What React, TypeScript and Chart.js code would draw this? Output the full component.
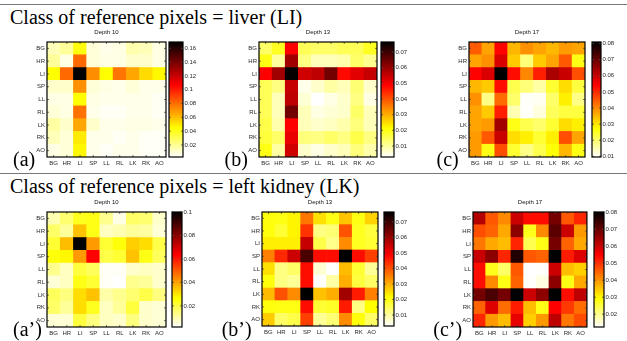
import React, { useEffect, useRef } from "react";
import { Chart, registerables } from "chart.js";
Chart.register(...registerables);

const organs = ["BG", "HR", "LI", "SP", "LL", "RL", "LK", "RK", "AO"];

// Class = liver (LI)
const liverDepth10 = [
  [0.014, 0.019, 0.042, 0.009, 0.006, 0.007, 0.016, 0.014, 0.007],
  [0.019, 0.007, 0.081, 0.009, 0.007, 0.007, 0.011, 0.011, 0.007],
  [0.044, 0.081, 0.169, 0.072, 0.044, 0.078, 0.066, 0.053, 0.046],
  [0.011, 0.011, 0.071, 0.009, 0.007, 0.006, 0.009, 0.006, 0.006],
  [0.007, 0.007, 0.044, 0.007, 0.006, 0.006, 0.006, 0.006, 0.004],
  [0.009, 0.007, 0.079, 0.006, 0.004, 0.004, 0.006, 0.006, 0.004],
  [0.018, 0.011, 0.066, 0.011, 0.006, 0.006, 0.007, 0.007, 0.006],
  [0.014, 0.009, 0.049, 0.006, 0.006, 0.004, 0.006, 0.004, 0.004],
  [0.007, 0.009, 0.046, 0.006, 0.004, 0.006, 0.006, 0.004, 0.004],
];
const liverDepth13 = [
  [0.014, 0.019, 0.049, 0.015, 0.014, 0.014, 0.015, 0.015, 0.019],
  [0.020, 0.010, 0.059, 0.012, 0.008, 0.008, 0.009, 0.014, 0.011],
  [0.049, 0.059, 0.076, 0.054, 0.056, 0.064, 0.048, 0.052, 0.055],
  [0.015, 0.012, 0.055, 0.0045, 0.0067, 0.0096, 0.008, 0.013, 0.0067],
  [0.015, 0.008, 0.056, 0.006, 0.003, 0.005, 0.0067, 0.012, 0.005],
  [0.015, 0.008, 0.064, 0.008, 0.005, 0.006, 0.0067, 0.014, 0.008],
  [0.016, 0.009, 0.049, 0.008, 0.0067, 0.0074, 0.009, 0.0125, 0.008],
  [0.017, 0.014, 0.051, 0.0125, 0.012, 0.014, 0.012, 0.016, 0.012],
  [0.020, 0.0096, 0.054, 0.0067, 0.005, 0.0067, 0.008, 0.0125, 0.009],
];
const liverDepth17 = [
  [0.0446, 0.037, 0.054, 0.035, 0.039, 0.037, 0.035, 0.038, 0.037],
  [0.037, 0.039, 0.058, 0.033, 0.019, 0.033, 0.037, 0.045, 0.026],
  [0.054, 0.058, 0.081, 0.053, 0.040, 0.051, 0.063, 0.060, 0.046],
  [0.035, 0.033, 0.053, 0.022, 0.019, 0.016, 0.024, 0.031, 0.023],
  [0.039, 0.018, 0.043, 0.020, 0.010, 0.0105, 0.020, 0.029, 0.018],
  [0.037, 0.033, 0.051, 0.015, 0.0098, 0.012, 0.021, 0.023, 0.023],
  [0.037, 0.038, 0.064, 0.026, 0.022, 0.020, 0.024, 0.031, 0.029],
  [0.038, 0.045, 0.060, 0.031, 0.029, 0.024, 0.029, 0.046, 0.037],
  [0.038, 0.026, 0.046, 0.024, 0.018, 0.022, 0.027, 0.035, 0.026],
];

// Class = left kidney (LK)
const kidneyDepth10 = [
  [0.0094, 0.0157, 0.0236, 0.0245, 0.013, 0.0045, 0.0167, 0.0157, 0.007],
  [0.0167, 0.0118, 0.0353, 0.0245, 0.0079, 0.0094, 0.0118, 0.011, 0.006],
  [0.0216, 0.036, 0.1, 0.041, 0.0216, 0.0255, 0.0334, 0.0314, 0.0196],
  [0.0255, 0.0275, 0.041, 0.0633, 0.0196, 0.0216, 0.0353, 0.0245, 0.0177],
  [0.013, 0.0079, 0.0206, 0.0177, 0.003, 0.003, 0.007, 0.0079, 0.007],
  [0.006, 0.0079, 0.0245, 0.0216, 0.003, 0.002, 0.013, 0.0118, 0.007],
  [0.0177, 0.0143, 0.0314, 0.0353, 0.0103, 0.013, 0.0157, 0.0196, 0.0143],
  [0.0167, 0.0118, 0.0314, 0.0236, 0.0079, 0.0118, 0.0206, 0.007, 0.006],
  [0.006, 0.006, 0.0206, 0.0143, 0.0079, 0.007, 0.0143, 0.007, 0.006],
];
const kidneyDepth13 = [
  [0.0205, 0.0198, 0.0224, 0.036, 0.0246, 0.0198, 0.0277, 0.0198, 0.026],
  [0.0205, 0.0176, 0.0224, 0.0433, 0.012, 0.013, 0.040, 0.019, 0.0168],
  [0.023, 0.023, 0.023, 0.055, 0.016, 0.0114, 0.0338, 0.019, 0.0176],
  [0.035, 0.0445, 0.0544, 0.0683, 0.0475, 0.0475, 0.0764, 0.0475, 0.042],
  [0.0246, 0.012, 0.014, 0.0475, 0.006, 0.003, 0.0286, 0.0176, 0.0103],
  [0.0205, 0.012, 0.0103, 0.0475, 0.003, 0.0095, 0.030, 0.0168, 0.014],
  [0.0286, 0.040, 0.0338, 0.0764, 0.028, 0.030, 0.0588, 0.046, 0.035],
  [0.0205, 0.0198, 0.0198, 0.0475, 0.0176, 0.0185, 0.046, 0.012, 0.0213],
  [0.0268, 0.014, 0.016, 0.042, 0.0103, 0.013, 0.0338, 0.0205, 0.014],
];
const kidneyDepth17 = [
  [0.062, 0.046, 0.041, 0.0598, 0.0535, 0.0535, 0.0685, 0.046, 0.051],
  [0.047, 0.045, 0.038, 0.066, 0.0275, 0.041, 0.071, 0.0598, 0.0395],
  [0.043, 0.038, 0.036, 0.051, 0.024, 0.028, 0.0685, 0.045, 0.038],
  [0.060, 0.066, 0.051, 0.0766, 0.046, 0.045, 0.08, 0.052, 0.058],
  [0.0535, 0.0275, 0.0226, 0.046, 0.0125, 0.0127, 0.0598, 0.036, 0.034],
  [0.0535, 0.041, 0.028, 0.045, 0.0127, 0.0145, 0.066, 0.028, 0.038],
  [0.0685, 0.0726, 0.0685, 0.08, 0.0598, 0.066, 0.08, 0.0535, 0.061],
  [0.045, 0.058, 0.044, 0.052, 0.036, 0.028, 0.0547, 0.049, 0.044],
  [0.051, 0.0395, 0.036, 0.057, 0.034, 0.0395, 0.061, 0.043, 0.047],
];

// colour-bar limits and tick labels
const liverDepth10Range = [0.0026, 0.169];
const liverDepth13Range = [0.003, 0.0764];
const liverDepth17Range = [0.0096, 0.081];
const kidneyDepth10Range = [0.002, 0.1];
const kidneyDepth13Range = [0.0029, 0.0764];
const kidneyDepth17Range = [0.0125, 0.08];

const liverDepth10Ticks = [0.02, 0.04, 0.06, 0.08, 0.1, 0.12, 0.14, 0.16];
const liverDepth13Ticks = [0.01, 0.02, 0.03, 0.04, 0.05, 0.06, 0.07];
const liverDepth17Ticks = [0.01, 0.02, 0.03, 0.04, 0.05, 0.06, 0.07, 0.08];
const kidneyDepth10Ticks = [0.02, 0.04, 0.06, 0.08, 0.1];
const kidneyDepth13Ticks = [0.01, 0.02, 0.03, 0.04, 0.05, 0.06, 0.07];
const kidneyDepth17Ticks = [0.02, 0.03, 0.04, 0.05, 0.06, 0.07, 0.08];

const SANS = "'Liberation Sans', Arial, Helvetica, sans-serif";
const SERIF = "'Liberation Serif', 'Times New Roman', Times, serif";
const SMALL = { size: 6, family: SANS };
const TXT = "#2a2a2a";

const clamp = (x: number) => Math.max(0, Math.min(1, x));
function hotR(t: number) {
  const s = 1 - clamp(t);
  const r = clamp(s / 0.375);
  const g = clamp((s - 0.375) / 0.375);
  const b = clamp((s - 0.75) / 0.25);
  return `rgb(${Math.round(r * 255)},${Math.round(g * 255)},${Math.round(b * 255)})`;
}

const framePlugin = {
  id: "frameTicks",
  afterDraw(chart: any) {
    const { ctx, chartArea: a } = chart;
    ctx.save();
    ctx.strokeStyle = "#555";
    ctx.lineWidth = 0.8;
    const len = 2;
    Object.keys(chart.scales).forEach((id) => {
      const s = chart.scales[id];
      if (!s.options.display) return;
      s.ticks.forEach((_t: any, i: number) => {
        const p = s.getPixelForTick(i);
        ctx.beginPath();
        if (s.isHorizontal()) {
          ctx.moveTo(p, a.bottom);
          ctx.lineTo(p, a.bottom - len);
          ctx.moveTo(p, a.top);
          ctx.lineTo(p, a.top + len);
        } else {
          ctx.moveTo(a.left, p);
          ctx.lineTo(a.left + len, p);
          ctx.moveTo(a.right, p);
          ctx.lineTo(a.right - len, p);
        }
        ctx.stroke();
      });
    });
    ctx.strokeStyle = "#000";
    ctx.lineWidth = 1.2;
    ctx.strokeRect(a.left, a.top, a.right - a.left, a.bottom - a.top);
    ctx.restore();
  },
};

const YW = 20; // y axis width
const TH = 13; // title height
const XH = 12; // x axis height

function Heatmap(props: { matrix: number[][]; range: number[]; depth: number; box: number[] }) {
  const ref = useRef<HTMLCanvasElement>(null);
  const [l, t, r, b] = props.box;
  const W = YW + (r - l) + 1;
  const H = TH + (b - t) + XH;
  useEffect(() => {
    const [mn, mx] = props.range;
    const rowsBottomUp = organs.map((_, i) => organs.length - 1 - i);
    const chart = new Chart(ref.current as HTMLCanvasElement, {
      type: "bar",
      data: {
        labels: organs,
        datasets: rowsBottomUp.map((ri) => ({
          label: organs[ri],
          data: organs.map(() => 1),
          backgroundColor: props.matrix[ri].map((v) => hotR((v - mn) / (mx - mn))),
          borderWidth: 0,
          barPercentage: 1,
          categoryPercentage: 1,
          stack: "m",
        })),
      },
      options: {
        animation: false,
        responsive: false,
        maintainAspectRatio: false,
        layout: { padding: { left: 0, right: 1, top: 0, bottom: 0 } },
        plugins: {
          legend: { display: false },
          tooltip: { enabled: false },
          title: {
            display: true,
            text: `Depth ${props.depth}`,
            font: { size: 6, family: SANS, weight: "normal" },
            color: "#111",
            padding: { top: 0, bottom: 5.8 },
            fullSize: false,
          },
        },
        scales: {
          x: {
            stacked: true,
            grid: { display: true, drawOnChartArea: false, drawTicks: false },
            border: { display: false },
            ticks: { font: SMALL, color: TXT, padding: 3, maxRotation: 0, autoSkip: false },
            afterFit: (s: any) => {
              s.height = XH;
            },
          },
          y: {
            stacked: true,
            min: 0,
            max: organs.length,
            afterBuildTicks: (s: any) => {
              s.ticks = organs.map((_, i) => ({ value: i + 0.5 }));
            },
            grid: { display: true, drawOnChartArea: false, drawTicks: false },
            border: { display: false },
            ticks: {
              font: SMALL,
              color: TXT,
              padding: 2,
              autoSkip: false,
              callback: (v: any) => organs[organs.length - 1 - Math.floor(Number(v))],
            },
            afterFit: (s: any) => {
              s.width = YW;
            },
          },
        },
      } as any,
      plugins: [framePlugin],
    });
    return () => chart.destroy();
  }, []);
  return (
    <canvas
      ref={ref}
      width={W}
      height={H}
      style={{ position: "absolute", left: l - YW, top: t - TH, width: W, height: H }}
    />
  );
}

const CP = 7; // colorbar vertical padding
const CAW = 24; // colorbar axis width

function ColorBar(props: { range: number[]; ticks: number[]; box: number[] }) {
  const ref = useRef<HTMLCanvasElement>(null);
  const [l, t, r, b] = props.box;
  const W = 1 + (r - l) + CAW;
  const H = CP + (b - t) + CP;
  useEffect(() => {
    const [mn, mx] = props.range;
    const chart = new Chart(ref.current as HTMLCanvasElement, {
      type: "bar",
      data: {
        labels: [""],
        datasets: [
          {
            data: [[mn, mx]],
            backgroundColor: (c: any) => {
              const area = c.chart.chartArea;
              if (!area) return "#fff";
              const g = c.chart.ctx.createLinearGradient(0, area.bottom, 0, area.top);
              g.addColorStop(0, "#ffffff");
              g.addColorStop(0.25, "#ffff00");
              g.addColorStop(0.625, "#ff0000");
              g.addColorStop(1, "#000000");
              return g;
            },
            borderWidth: 0,
            barPercentage: 1,
            categoryPercentage: 1,
          },
        ],
      },
      options: {
        animation: false,
        responsive: false,
        maintainAspectRatio: false,
        layout: { padding: { left: 1, right: 0, top: CP, bottom: CP } },
        plugins: { legend: { display: false }, tooltip: { enabled: false } },
        scales: {
          x: { display: false },
          y: {
            position: "right",
            min: mn,
            max: mx,
            afterBuildTicks: (s: any) => {
              s.ticks = props.ticks.map((v) => ({ value: v }));
            },
            grid: { display: true, drawOnChartArea: false, drawTicks: false },
            border: { display: false },
            ticks: { font: SMALL, color: TXT, padding: 1.5, callback: (v: any) => String(v) },
            afterFit: (s: any) => {
              s.width = CAW;
            },
          },
        },
      } as any,
      plugins: [framePlugin],
    });
    return () => chart.destroy();
  }, []);
  return (
    <canvas
      ref={ref}
      width={W}
      height={H}
      style={{ position: "absolute", left: l - 1, top: t - CP, width: W, height: H }}
    />
  );
}

const panels = [
  { tag: "(a)", tagPos: [13, 149], depth: 10, matrix: liverDepth10, range: liverDepth10Range, ticks: liverDepth10Ticks, box: [47, 42, 166, 157], bar: [169, 42, 183, 157] },
  { tag: "(b)", tagPos: [224.5, 149], depth: 13, matrix: liverDepth13, range: liverDepth13Range, ticks: liverDepth13Ticks, box: [259, 42, 377, 157], bar: [381, 42, 394, 157] },
  { tag: "(c)", tagPos: [436.5, 149], depth: 17, matrix: liverDepth17, range: liverDepth17Range, ticks: liverDepth17Ticks, box: [469, 42, 585, 157], bar: [592, 42, 601, 157] },
  { tag: "(a\u2019)", tagPos: [13, 319], depth: 10, matrix: kidneyDepth10, range: kidneyDepth10Range, ticks: kidneyDepth10Ticks, box: [47, 212, 166, 327], bar: [172, 212, 182, 327] },
  { tag: "(b\u2019)", tagPos: [221.7, 319], depth: 13, matrix: kidneyDepth13, range: kidneyDepth13Range, ticks: kidneyDepth13Ticks, box: [262, 212, 378, 326], bar: [384, 212, 394, 326] },
  { tag: "(c\u2019)", tagPos: [433.3, 319], depth: 17, matrix: kidneyDepth17, range: kidneyDepth17Range, ticks: kidneyDepth17Ticks, box: [473, 212, 587, 327], bar: [594, 212, 604, 327] },
];

const bigText: React.CSSProperties = {
  position: "absolute",
  fontFamily: SERIF,
  fontSize: 20,
  lineHeight: "20px",
  color: "#000",
  whiteSpace: "nowrap",
};

export default function App() {
  return (
    <div
      style={{
        position: "absolute",
        left: 0,
        top: 0,
        width: 627,
        height: 341,
        background: "#fff",
        overflow: "hidden",
      }}
    >
      <div style={{ position: "absolute", left: 0, top: 4, width: 627, height: 1.3, background: "#777" }} />
      <div style={{ ...bigText, left: 10, top: 6.5 }}>Class of reference pixels = liver (LI)</div>
      <div style={{ position: "absolute", left: 0, top: 173, width: 627, height: 1.3, background: "#777" }} />
      <div style={{ ...bigText, left: 10, top: 176 }}>Class of reference pixels = left kidney (LK)</div>
      {panels.map((p, i) => (
        <React.Fragment key={i}>
          <Heatmap matrix={p.matrix} range={p.range} depth={p.depth} box={p.box} />
          <ColorBar range={p.range} ticks={p.ticks} box={p.bar} />
          <div style={{ ...bigText, left: p.tagPos[0], top: p.tagPos[1] }}>{p.tag}</div>
        </React.Fragment>
      ))}
    </div>
  );
}
